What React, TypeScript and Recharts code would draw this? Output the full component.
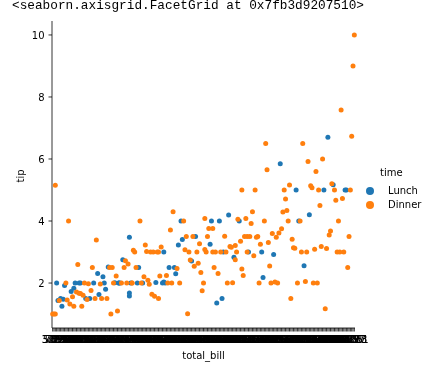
import { ScatterChart, Scatter, XAxis, YAxis } from 'recharts';

// tips dataset, row order: total_bill, tip, time (L = Lunch, D = Dinner)
const totalBill = [
  16.99, 10.34, 21.01, 23.68, 24.59, 25.29, 8.77, 26.88, 15.04, 14.78, 10.27, 35.26, 15.42, 18.43, 14.83, 21.58, 10.33, 16.29, 16.97,
  20.65, 17.92, 20.29, 15.77, 39.42, 19.82, 17.81, 13.37, 12.69, 21.7, 19.65, 9.55, 18.35, 15.06, 20.69, 17.78, 24.06, 16.31, 16.93, 18.69, 31.27, 16.04,
  17.46, 13.94, 9.68, 30.4, 18.29, 22.23, 32.4, 28.55, 18.04, 12.54, 10.29, 34.81, 9.94, 25.56, 19.49,
  38.01, 26.41, 11.24, 48.27, 20.29, 13.81, 11.02, 18.29, 17.59, 20.08, 16.45, 3.07, 20.23, 15.01, 12.02, 17.07, 26.86, 25.28, 14.73, 10.51, 17.92,
  27.2, 22.76, 17.29, 19.44, 16.66, 10.07, 32.68, 15.98, 34.83, 13.03, 18.28, 24.71, 21.16,
  28.97, 22.49, 5.75, 16.32, 22.75, 40.17, 27.28, 12.03, 21.01, 12.46, 11.35, 15.38,
  44.3, 22.42, 20.92, 15.36, 20.49, 25.21, 18.24, 14.31, 14.0, 7.25, 38.07, 23.95, 25.71, 17.31, 29.93,
  10.65, 12.43, 24.08, 11.69, 13.42, 14.26, 15.95, 12.48, 29.8, 8.52, 14.52, 11.38, 22.82, 19.08, 20.27, 11.17, 12.26, 18.26, 8.51, 10.33,
  14.15, 16.0, 13.16, 17.47, 34.3, 41.19, 27.05, 16.43, 8.35, 18.64, 11.87, 9.78, 7.51,
  14.07, 13.13, 17.26, 24.55, 19.77, 29.85, 48.17, 25.0, 13.39, 16.49, 21.5, 12.66, 16.21, 13.81, 17.51, 24.52, 20.76, 31.71, 10.59, 10.63,
  50.81, 15.81, 7.25, 31.85, 16.82, 32.9, 17.89, 14.48, 9.6, 34.63, 34.65, 23.33, 45.35, 23.17, 40.55, 20.69, 20.9, 30.46, 18.15, 23.1, 15.69,
  19.81, 28.44, 15.48, 16.58, 7.56, 10.34, 43.11, 13.0, 13.51, 18.71, 12.74, 13.0, 16.4, 20.53, 16.47,
  26.59, 38.73, 24.27, 12.76, 30.06, 25.89, 48.33, 13.27, 28.17, 12.9, 28.15, 11.59, 7.74, 30.14,
  12.16, 13.42, 8.58, 15.98, 13.42, 16.27, 10.09,
  20.45, 13.28, 22.12, 24.01, 15.69, 11.61, 10.77, 15.53, 10.07, 12.6, 32.83, 35.83, 29.03, 27.18, 22.67, 17.82,
  18.78,
];

const tipValues = [
  1.01, 1.66, 3.5, 3.31, 3.61, 4.71, 2.0, 3.12, 1.96, 3.23, 1.71, 5.0, 1.57, 3.0, 3.02, 3.92, 1.67, 3.71, 3.5,
  3.35, 4.08, 2.75, 2.23, 7.58, 3.18, 2.34, 2.0, 2.0, 4.3, 3.0, 1.45, 2.5, 3.0, 2.45, 3.27, 3.6, 2.0, 3.07, 2.31, 5.0, 2.24,
  2.54, 3.06, 1.32, 5.6, 3.0, 5.0, 6.0, 2.05, 3.0, 2.5, 2.6, 5.2, 1.56, 4.34, 3.51,
  3.0, 1.5, 1.76, 6.73, 3.21, 2.0, 1.98, 3.76, 2.64, 3.15, 2.47, 1.0, 2.01, 2.09, 1.97, 3.0, 3.14, 5.0, 2.2, 1.25, 3.08,
  4.0, 3.0, 2.71, 3.0, 3.4, 1.83, 5.0, 2.03, 5.17, 2.0, 4.0, 5.85, 3.0,
  3.0, 3.5, 1.0, 4.3, 3.25, 4.73, 4.0, 1.5, 3.0, 1.5, 2.5, 3.0,
  2.5, 3.48, 4.08, 1.64, 4.06, 4.29, 3.76, 4.0, 3.0, 1.0, 4.0, 2.55, 4.0, 3.5, 5.07,
  1.5, 1.8, 2.92, 2.31, 1.68, 2.5, 2.0, 2.52, 4.2, 1.48, 2.0, 2.0, 2.18, 1.5, 2.83, 1.5, 2.0, 3.25, 1.25, 2.0,
  2.0, 2.0, 2.75, 3.5, 6.7, 5.0, 5.0, 2.3, 1.5, 1.36, 1.63, 1.73, 2.0,
  2.5, 2.0, 2.74, 2.0, 2.0, 5.14, 5.0, 3.75, 2.61, 2.0, 3.5, 2.5, 2.0, 2.0, 3.0, 3.48, 2.24, 4.5, 1.61, 2.0,
  10.0, 3.16, 5.15, 3.18, 4.0, 3.11, 2.0, 2.0, 4.0, 3.55, 3.68, 5.65, 3.5, 6.5, 3.0, 5.0, 3.5, 2.0, 3.5, 4.0, 1.5,
  4.19, 2.56, 2.02, 4.0, 1.44, 2.0, 5.0, 2.0, 2.0, 4.0, 2.01, 2.0, 2.5, 4.0, 3.23,
  3.41, 3.0, 2.03, 2.23, 2.0, 5.16, 9.0, 2.5, 6.5, 1.1, 3.0, 1.5, 1.44, 3.09,
  2.2, 3.48, 1.92, 3.0, 1.58, 2.5, 2.0,
  3.0, 2.72, 2.88, 2.0, 3.0, 3.39, 1.47, 3.0, 1.25, 1.0, 1.17, 4.67, 5.92, 2.0, 2.0, 1.75,
  3.0,
];

const timeCodes = [
  'D', 'D', 'D', 'D', 'D', 'D', 'D', 'D', 'D', 'D', 'D', 'D', 'D', 'D', 'D', 'D', 'D', 'D', 'D',
  'D', 'D', 'D', 'D', 'D', 'D', 'D', 'D', 'D', 'D', 'D', 'D', 'D', 'D', 'D', 'D', 'D', 'D', 'D', 'D', 'D', 'D',
  'D', 'D', 'D', 'D', 'D', 'D', 'D', 'D', 'D', 'D', 'D', 'D', 'D', 'D', 'D',
  'D', 'D', 'D', 'D', 'D', 'D', 'D', 'D', 'D', 'D', 'D', 'D', 'D', 'D', 'D', 'D', 'D', 'D', 'D', 'D', 'D',
  'L', 'L', 'L', 'L', 'L', 'L', 'L', 'L', 'L', 'L', 'L', 'L', 'L',
  'D', 'D', 'D', 'D', 'D', 'D', 'D', 'D', 'D', 'D', 'D', 'D',
  'D', 'D', 'D', 'D', 'D', 'D', 'D', 'D', 'D', 'D', 'D', 'D', 'D', 'D', 'D',
  'L', 'L', 'L', 'L', 'L', 'L', 'L', 'L', 'L', 'L', 'L', 'L', 'L', 'L', 'L', 'L', 'L', 'L', 'L', 'L',
  'L', 'L', 'L', 'L', 'L', 'L', 'L', 'L', 'L', 'L', 'L', 'L', 'L',
  'D', 'D', 'D', 'D', 'D', 'D', 'D', 'D', 'D', 'D', 'D', 'D', 'D', 'D', 'D', 'D', 'D', 'D', 'D', 'D',
  'D', 'D', 'D', 'D', 'D', 'D', 'D', 'D', 'D', 'D', 'D', 'D', 'D', 'D', 'D', 'D', 'D', 'D', 'D', 'D', 'D',
  'L', 'L', 'L', 'L', 'L', 'L', 'L', 'L', 'L', 'L', 'L', 'L', 'L', 'L', 'L',
  'D', 'D', 'D', 'D', 'D', 'D', 'D', 'D', 'D', 'D', 'D', 'D', 'D', 'D',
  'L', 'L', 'L', 'L', 'L', 'L', 'L',
  'D', 'D', 'D', 'D', 'D', 'D', 'D', 'D', 'D', 'D', 'D', 'D', 'D', 'D', 'D', 'D',
  'D',
];

const yTicks = [2, 4, 6, 8, 10];
const timeLevels = [
  { code: 'L', name: 'Lunch', color: '#1f77b4' },
  { code: 'D', name: 'Dinner', color: '#ff7f0e' },
];

// seaborn treats total_bill as categorical: one slot per sorted unique value
const categories = Array.from(new Set(totalBill)).sort((a, b) => a - b);
const catTicks = categories.map((_, i) => i);
const pyStr = (v: number) => (Number.isInteger(v) ? `${v}.0` : String(v));

const seriesData = timeLevels.map((lvl) => ({
  ...lvl,
  points: totalBill
    .map((bill, i) => ({ x: categories.indexOf(bill), y: tipValues[i], t: timeCodes[i] }))
    .filter((p) => p.t === lvl.code),
}));

const font = 'DejaVu Sans, sans-serif';
const tickStyle = { fontSize: 10, fill: '#000', fontFamily: font };

const YLabel = () => (
  <text
    x={24}
    y={176}
    transform="rotate(-90 24 176)"
    textAnchor="middle"
    fontSize={10}
    fontFamily={font}
    fill="#000"
  >
    tip
  </text>
);

export default function App() {
  return (
    <div style={{ position: 'fixed', left: 0, top: 0, width: 438, height: 368, background: '#fff' }}>
      <div
        style={{
          position: 'absolute',
          left: 12,
          top: 0,
          fontFamily: 'Liberation Mono, monospace',
          fontSize: 12.75,
          lineHeight: '12.75px',
          color: '#000',
          whiteSpace: 'pre',
        }}
      >
        {'<seaborn.axisgrid.FacetGrid at 0x7fb3d9207510>'}
      </div>
      <ScatterChart width={438} height={368} margin={{ top: 21, right: 83, bottom: 0, left: 12 }}>
        <XAxis
          type="number"
          dataKey="x"
          domain={[-0.5, categories.length - 0.5]}
          ticks={catTicks}
          interval={0}
          tickFormatter={(v: number) => pyStr(categories[v])}
          height={40}
          tick={tickStyle}
          tickSize={3.5}
          tickMargin={4}
          stroke="#000"
          strokeWidth={0.8}
          label={{ value: 'total_bill', position: 'insideBottom', offset: 9.5, style: { ...tickStyle } }}
        />
        <YAxis
          type="number"
          dataKey="y"
          domain={[0.55, 10.45]}
          ticks={yTicks}
          interval={0}
          width={40}
          tick={tickStyle}
          tickSize={3.5}
          tickMargin={4}
          stroke="#000"
          strokeWidth={0.8}
          label={<YLabel />}
        />
        {seriesData.map((s) => (
          <Scatter
            key={s.code}
            name={s.name}
            data={s.points}
            isAnimationActive={false}
            shape={(p: any) => <circle cx={p.cx} cy={p.cy} r={2.5} fill={s.color} />}
          />
        ))}
      </ScatterChart>
      <div style={{ position: 'absolute', left: 360, top: 166, fontFamily: font, fontSize: 10, color: '#000' }}>
        <div style={{ position: 'absolute', left: 20, top: 1, width: 21, textAlign: 'center', lineHeight: '12px' }}>time</div>
        {timeLevels.map((lvl, i) => (
          <div key={lvl.code} style={{ position: 'absolute', left: 0, top: 19 + i * 14, whiteSpace: 'nowrap', lineHeight: '12px' }}>
            <svg width={20} height={12} style={{ position: 'absolute', left: 0, top: 0 }}>
              <circle cx={10} cy={6} r={4} fill={lvl.color} />
            </svg>
            <span style={{ position: 'absolute', left: 28, top: 0 }}>{lvl.name}</span>
          </div>
        ))}
      </div>
    </div>
  );
}
